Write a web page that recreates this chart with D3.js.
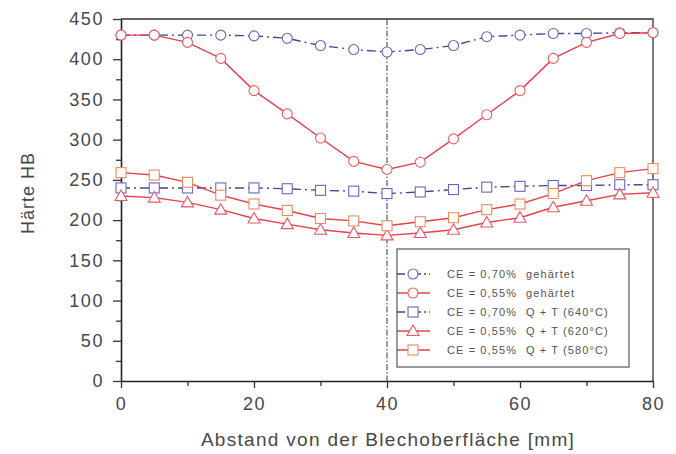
<!DOCTYPE html>
<html>
<head>
<meta charset="utf-8">
<script src="https://cdn.jsdelivr.net/npm/d3@7"></script>
<style>
  body { margin: 0; background: #fff; }
  text { font-family: "Liberation Sans", Arial, sans-serif; }
</style>
</head>
<body>
<div id="chart"></div>
<script>
// distance from surface [mm]
var xs = [0, 5, 10, 15, 20, 25, 30, 35, 40, 45, 50, 55, 60, 65, 70, 75, 80];

var ce70Hard = [430, 430, 430, 430, 429, 426, 417, 412, 409, 412, 417, 428, 430, 432, 432, 433, 433];
var ce55Hard = [430, 430, 421, 401, 361, 332, 302, 273, 263, 272, 301, 331, 361, 401, 421, 432, 433];
var ce70QT640 = [240, 240, 240, 240, 240, 239, 237, 236, 233, 235, 238, 241, 242, 243, 243, 244, 244];
var ce55QT620 = [230, 228, 222, 213, 202, 195, 188, 184, 181, 184, 188, 197, 203, 216, 224, 232, 234];
var ce55QT580 = [259, 256, 247, 231, 220, 212, 202, 199, 193, 198, 203, 213, 220, 233, 249, 259, 264];

var seriesNames = [
  ['CE = 0,70%', 'gehärtet'],
  ['CE = 0,55%', 'gehärtet'],
  ['CE = 0,70%', 'Q + T (640°C)'],
  ['CE = 0,55%', 'Q + T (620°C)'],
  ['CE = 0,55%', 'Q + T (580°C)']
];

var xTicks = [0, 20, 40, 60, 80];
var xMinor = [10, 30, 50, 70];
var yTicks = [0, 50, 100, 150, 200, 250, 300, 350, 400, 450];
var yMinor = [25, 75, 125, 175, 225, 275, 325, 375, 425];

var width = 676, height = 454;
var margin = { left: 121, right: 23, top: 19, bottom: 73 };
var w = width - margin.left - margin.right;
var h = height - margin.top - margin.bottom;

var blue = '#46469a', blueMark = '#6c64c4';
var red = '#e8404c', redMark = '#e86060', orange = '#f08a58';

var series = [
  { values: ce70Hard, line: blue, mark: blueMark, shape: 'circle', dash: '9,4,2,4' },
  { values: ce55Hard, line: red, mark: redMark, shape: 'circle', dash: null },
  { values: ce70QT640, line: blue, mark: blueMark, shape: 'square', dash: '9,4,2,4' },
  { values: ce55QT620, line: red, mark: '#e85868', shape: 'triangle', dash: null },
  { values: ce55QT580, line: red, mark: orange, shape: 'square', dash: null }
];

var svg = d3.select('#chart')
  .append('svg')
  .attr('width', width)
  .attr('height', height);

var g = svg.append('g')
  .attr('transform', 'translate(' + margin.left + ',' + margin.top + ')');

var x = d3.scaleLinear().domain([0, 80]).range([0, w]);
var y = d3.scaleLinear().domain([0, 450]).range([h, 0]);

// frame (top + right)
g.append('path')
  .attr('d', 'M0,0H' + w + 'V' + h)
  .attr('fill', 'none')
  .attr('stroke', '#333')
  .attr('stroke-width', 1.3);

// centre line at 40 mm
g.append('line')
  .attr('x1', x(40)).attr('x2', x(40))
  .attr('y1', 0).attr('y2', h)
  .attr('stroke', '#222')
  .attr('stroke-width', 0.9)
  .attr('stroke-dasharray', '6,2,1.5,2');

// minor ticks
g.append('g')
  .attr('transform', 'translate(0,' + h + ')')
  .call(d3.axisBottom(x).tickValues(xMinor).tickSize(5).tickFormat(''))
  .call(function(s) { s.select('.domain').remove(); });
g.append('g')
  .call(d3.axisLeft(y).tickValues(yMinor).tickSize(5).tickFormat(''))
  .call(function(s) { s.select('.domain').remove(); });

// main axes
var xAxis = g.append('g')
  .attr('transform', 'translate(0,' + h + ')')
  .call(d3.axisBottom(x).tickValues(xTicks).tickSize(7).tickPadding(9).tickSizeOuter(0));
var yAxis = g.append('g')
  .call(d3.axisLeft(y).tickValues(yTicks).tickSize(8).tickPadding(9).tickSizeOuter(0));

[xAxis, yAxis].forEach(function(a) {
  a.select('.domain').attr('stroke', '#222').attr('stroke-width', 1.6);
  a.selectAll('.tick text')
    .attr('fill', '#484848')
    .style('font-size', '18px')
    .style('letter-spacing', '1.6px');
});
g.selectAll('.tick line').attr('stroke', '#333').attr('stroke-width', 1.3);

// axis titles
svg.append('text')
  .attr('transform', 'translate(34,' + 193 + ') rotate(-90)')
  .attr('text-anchor', 'middle')
  .attr('fill', '#484848')
  .style('font-size', '18px')
  .style('letter-spacing', '1px')
  .text('Härte HB');

svg.append('text')
  .attr('x', 388)
  .attr('y', 446)
  .attr('text-anchor', 'middle')
  .attr('fill', '#484848')
  .style('font-size', '19px')
  .style('letter-spacing', '1.3px')
  .text('Abstand von der Blechoberfläche [mm]');

function drawMarker(sel, shape, color) {
  if (shape === 'circle') {
    sel.append('circle').attr('r', 5);
  } else if (shape === 'square') {
    sel.append('rect').attr('x', -5).attr('y', -5).attr('width', 10).attr('height', 10);
  } else {
    sel.append('path').attr('d', 'M0,-6L6,4.5L-6,4.5Z');
  }
  sel.selectAll('*')
    .attr('fill', '#fff')
    .attr('stroke', color)
    .attr('stroke-width', 1.1);
}

var line = d3.line()
  .x(function(d, i) { return x(xs[i]); })
  .y(function(d) { return y(d); });

series.forEach(function(s) {
  g.append('path')
    .datum(s.values)
    .attr('d', line)
    .attr('fill', 'none')
    .attr('stroke', s.line)
    .attr('stroke-width', 1.4)
    .attr('stroke-dasharray', s.dash);
});

series.forEach(function(s) {
  g.selectAll(null)
    .data(s.values)
    .enter()
    .append('g')
    .attr('transform', function(d, i) { return 'translate(' + x(xs[i]) + ',' + y(d) + ')'; })
    .each(function() { drawMarker(d3.select(this), s.shape, s.mark); });
});

// legend
var legend = svg.append('g').attr('transform', 'translate(397,249)');
legend.append('rect')
  .attr('width', 232)
  .attr('height', 118)
  .attr('fill', '#fff')
  .attr('stroke', '#666')
  .attr('stroke-width', 1.3);

var rows = legend.selectAll('.row')
  .data(series)
  .enter()
  .append('g')
  .attr('class', 'row')
  .attr('transform', function(d, i) { return 'translate(0,' + (25 + i * 19) + ')'; });

rows.append('line')
  .attr('x1', 0).attr('x2', 33)
  .attr('stroke', function(d) { return d.line; })
  .attr('stroke-width', 1.4)
  .attr('stroke-dasharray', function(d) { return d.dash ? '8,3,2,3' : null; });
rows.append('g')
  .attr('transform', 'translate(16,0)')
  .each(function(d) { drawMarker(d3.select(this), d.shape, d.mark); });

rows.append('text')
  .attr('x', 50)
  .attr('y', 4)
  .attr('fill', '#555')
  .style('font-size', '11px')
  .style('letter-spacing', '1.1px')
  .text(function(d, i) { return seriesNames[i][0]; });
rows.append('text')
  .attr('x', 129)
  .attr('y', 4)
  .attr('fill', '#555')
  .style('font-size', '11px')
  .style('letter-spacing', '1.1px')
  .text(function(d, i) { return seriesNames[i][1]; });
</script>
</body>
</html>
